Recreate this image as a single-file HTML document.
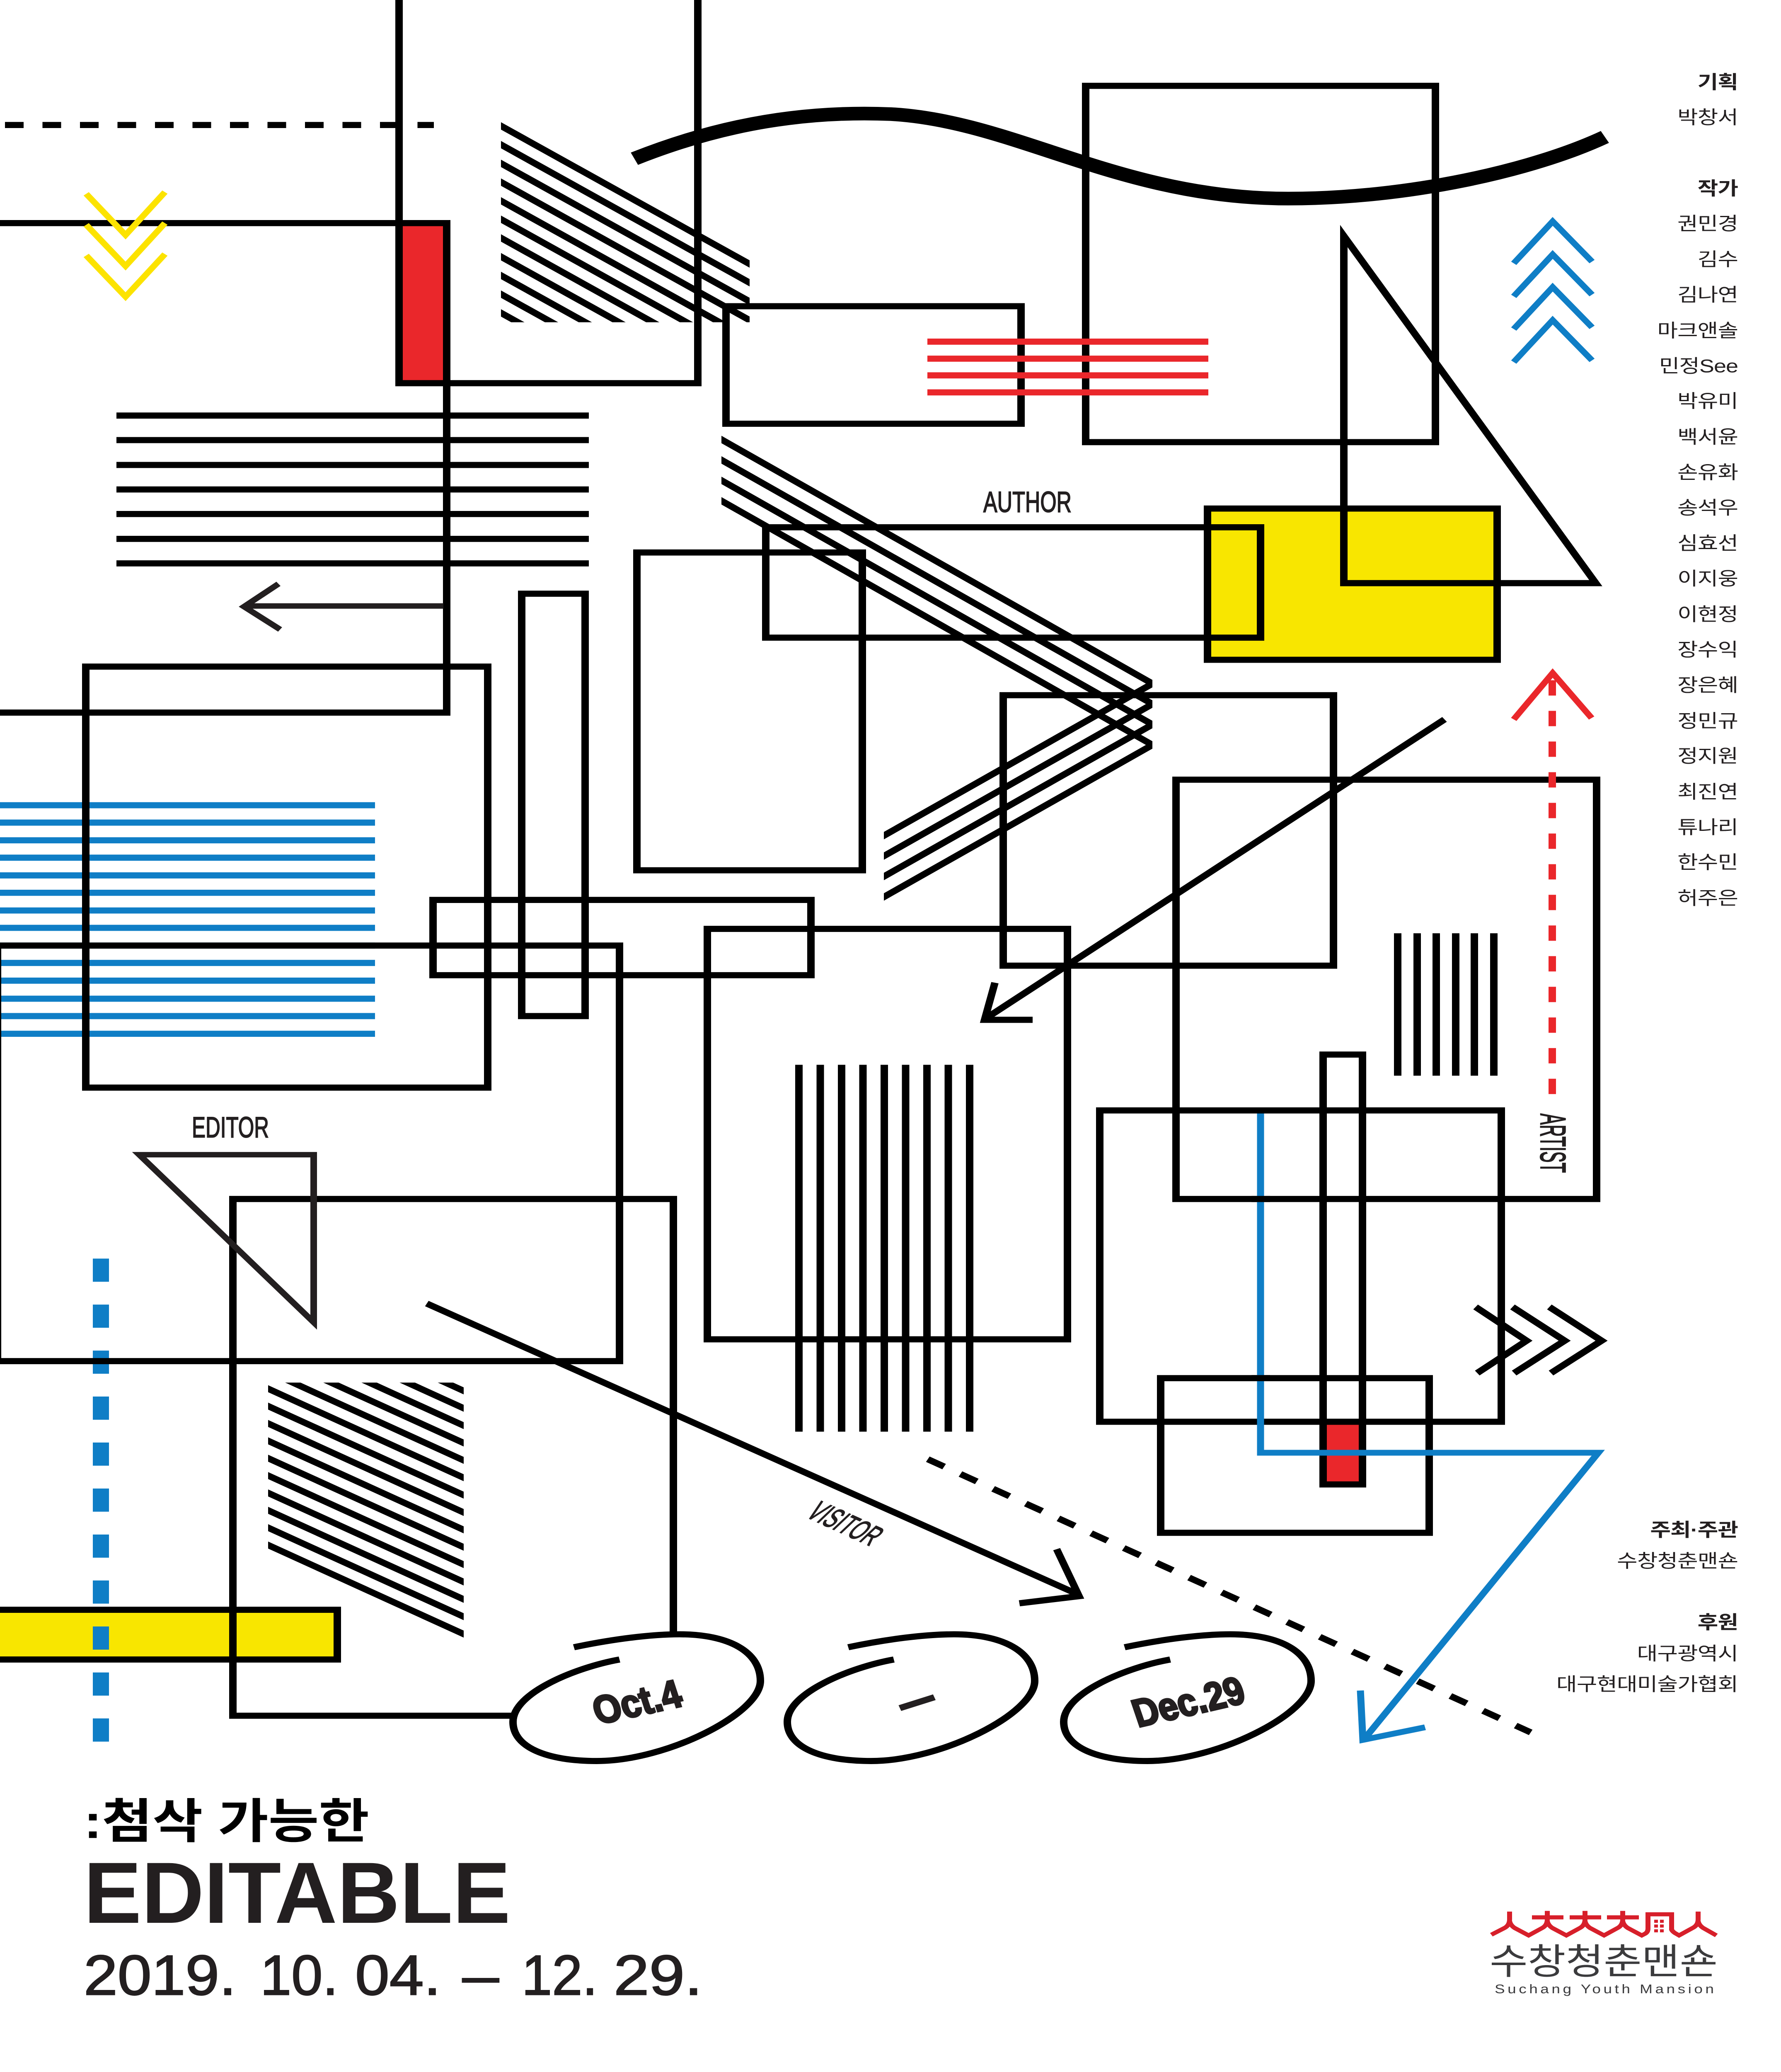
<!DOCTYPE html>
<html lang="ko">
<head>
<meta charset="utf-8">
<title>EDITABLE</title>
<style>
html,body{margin:0;padding:0;background:#fff;width:100%;height:100%;overflow:hidden}
svg{display:block;position:fixed;left:0;top:0;width:100vw;height:100vh;overflow:hidden}
.k{font-family:"Liberation Sans","Noto Sans CJK KR",sans-serif;font-size:54px;letter-spacing:-1px;fill:#231f20;text-anchor:end}
.b{font-weight:700}
.l{font-family:"Liberation Sans",sans-serif;fill:#231f20}
.h{stroke:#231f20;stroke-width:2.5}
.d{stroke:#231f20;stroke-width:3}
</style>
</head>
<body>
<svg xmlns="http://www.w3.org/2000/svg" viewBox="0 0 4298 6083" preserveAspectRatio="none">
<defs>
<clipPath id="c1"><rect x="1209" y="300" width="600" height="646"/></clipPath>
<clipPath id="c2"><rect x="1741" y="1200" width="1040" height="1300"/></clipPath>
<clipPath id="c3"><rect x="2133" y="1900" width="648" height="900"/></clipPath>
<clipPath id="c4"><rect x="647" y="4059" width="472" height="800"/></clipPath>
</defs>
<rect width="4298" height="6083" fill="#fff"/>

<!-- fills -->
<rect x="963" y="655" width="115" height="470" fill="#ea272b"/>
<rect x="2914" y="1493" width="699" height="444" fill="#f8e600"/>
<rect x="-20" y="4726" width="834" height="146" fill="#f8e600"/>
<rect x="3193" y="4170" width="95" height="188" fill="#ea272b"/>

<!-- blue horizontal lines -->
<g stroke="#0f7ec6" stroke-width="18" fill="none">
<path d="M0,2364H905M0,2415H905M0,2467H905M0,2518H905M0,2570H905M0,2621H905M0,2673H905M0,2724H905M0,2776H905M0,2827H905M0,2879H905M0,2932H905M0,2983H905M0,3035H905"/>
</g>
<path d="M243.5,3695V5113" stroke="#0f7ec6" stroke-width="39" stroke-dasharray="68 67" fill="none"/>

<g fill="none" stroke="#000" stroke-width="18" stroke-miterlimit="30">
<!-- top frame -->
<path d="M963,0V1125H1684V0"/>
<path d="M0,655H1078V2092H0"/>
<path d="M12,367H1047" stroke-dasharray="45 45.5"/>
<!-- hatch 1 -->
<g clip-path="url(#c1)">
<path d="M1180,350L1840,796M1180,405L1840,851M1180,460L1840,906M1180,515L1840,961M1180,570L1840,1016M1180,624L1840,1070M1180,679L1840,1125M1180,734L1840,1180M1180,789L1840,1235M1180,844L1840,1290M1180,899L1840,1345"/>
</g>
<!-- curve -->
<path d="M1531,466C1750,360 1950,325 2150,335C2450,355 2700,583 3109,583C3400,583 3700,500 3873,402" stroke-width="40"/>
<!-- rects -->
<rect x="2620" y="252" width="844" height="1046"/>
<rect x="1752" y="899" width="712" height="345"/>
<!-- seven lines -->
<path d="M281,1220H1421M281,1292H1421M281,1365H1421M281,1437H1421M281,1509H1421M281,1582H1421M281,1654H1421"/>
<rect x="207" y="1957" width="970" height="1236"/>
<rect x="1259" y="1743" width="153" height="1240"/>
<rect x="1537" y="1622" width="544" height="933"/>
<rect x="1848" y="1548" width="1194" height="324"/>
<rect x="2914" y="1493" width="699" height="444"/>
<path d="M3243,693L3851,1712H3243Z"/>
<!-- hatch 2 -->
<g clip-path="url(#c2)">
<path d="M1700,1262L2800,2020M1700,1322L2800,2080M1700,1382L2800,2140M1700,1442L2800,2200"/>
</g>
<g clip-path="url(#c3)">
<path d="M2100,2476L2800,1994M2100,2536L2800,2054M2100,2596L2800,2114M2100,2656L2800,2174"/>
</g>
<rect x="2421" y="2041" width="797" height="794"/>
<rect x="2838" y="2289" width="1015" height="1231"/>
<rect x="1707" y="2727" width="869" height="1205"/>
<rect x="1045" y="2642" width="912" height="221"/>
<rect x="-6" y="2776" width="1501" height="1220"/>
<rect x="-20" y="4726" width="834" height="146"/>
<path d="M1625,4790V3520H562V5037H1236"/>
<!-- nine verticals -->
<path d="M1928,3126V4203M1979.5,3126V4203M2031,3126V4203M2082.5,3126V4203M2134,3126V4203M2185.5,3126V4203M2237,3126V4203M2288.5,3126V4203M2340,3126V4203"/>
<!-- six verticals -->
<path d="M3373,2740V3158M3420,2740V3158M3466,2740V3158M3513,2740V3158M3558,2740V3158M3605,2740V3158"/>
<!-- diagonal arrow -->
<path d="M3486,2112L2385,2985"/>
<path d="M2401,2885L2376,2994H2492"/>
<rect x="2654" y="3260" width="969" height="914"/>
<rect x="3193" y="3096" width="95" height="1262"/>
<rect x="2801" y="4046" width="648" height="454"/>
<!-- right chevrons -->
<path d="M3561,3837L3684,3936L3565,4031"/>
<path d="M3650,3837L3776,3936L3654,4031"/>
<path d="M3739,3837L3865,3936L3743,4031"/>
<!-- hatch 3 -->
<g clip-path="url(#c4)">
<path d="M620,3807L1140,4095M620,3858L1140,4146M620,3909L1140,4197M620,3960L1140,4248M620,4011L1140,4299M620,4062L1140,4350M620,4113L1140,4401M620,4164L1140,4452M620,4215L1140,4503M620,4266L1140,4554M620,4317L1140,4605M620,4368L1140,4656M620,4419L1140,4707M620,4470L1140,4758M620,4521L1140,4809"/>
</g>
<!-- visitor arrow -->
<path d="M1030,3827L2600,4680"/>
<path d="M2550,4548L2604,4686L2460,4707"/>
<!-- dashed diagonal -->
<path d="M2239,4284L3694,5086" stroke-dasharray="45 45"/>
<!-- blobs -->
<path d="M1385,4836C1480,4812 1570,4798 1640,4798C1760,4798 1835,4850 1835,4935C1835,5030 1610,5170 1440,5170C1320,5170 1238,5130 1238,5055C1238,4970 1390,4895 1495,4872"/>
<path transform="translate(662,0)" d="M1385,4836C1480,4812 1570,4798 1640,4798C1760,4798 1835,4850 1835,4935C1835,5030 1610,5170 1440,5170C1320,5170 1238,5130 1238,5055C1238,4970 1390,4895 1495,4872"/>
<path transform="translate(1329,0)" d="M1385,4836C1480,4812 1570,4798 1640,4798C1760,4798 1835,4850 1835,4935C1835,5030 1610,5170 1440,5170C1320,5170 1238,5130 1238,5055C1238,4970 1390,4895 1495,4872"/>
</g>

<!-- left arrow -->
<path d="M1070,1779H595" fill="none" stroke="#231f20" stroke-width="16"/>
<path d="M672,1714L589,1781L676,1848" fill="none" stroke="#231f20" stroke-width="16" stroke-miterlimit="20"/>
<!-- editor triangle -->
<path d="M336,3390H757V3882Z" fill="none" stroke="#231f20" stroke-width="16" stroke-miterlimit="30"/>

<!-- red lines over black -->
<path d="M2238,1003H2916M2238,1053H2916M2238,1102H2916M2238,1152H2916" stroke="#ea272b" stroke-width="18" fill="none"/>
<!-- red dashed + chevron -->
<path d="M3746,3212V1990" stroke="#ea272b" stroke-width="18" stroke-dasharray="45 45" fill="none"/>
<path d="M3653,2112L3747,1976L3841,2108" stroke="#ea272b" stroke-width="16" fill="none" stroke-miterlimit="20"/>
<!-- yellow chevrons -->
<g fill="none" stroke="#fce300" stroke-width="16" stroke-miterlimit="20">
<path d="M208,569L303,690L398,564"/>
<path d="M208,660L303,781L398,655"/>
<path d="M208,750L303,871L398,746"/>
</g>
<!-- blue chevrons -->
<g fill="none" stroke="#0f7ec6" stroke-width="16" stroke-miterlimit="20">
<path d="M3653,773L3747,650L3842,768"/>
<path d="M3653,870L3747,747L3842,865"/>
<path d="M3653,966L3747,843L3842,961"/>
<path d="M3653,1063L3747,940L3842,1058"/>
</g>
<!-- blue connector -->
<path d="M3042,3269V4265H3857L3296,5100" fill="none" stroke="#0f7ec6" stroke-width="17" stroke-miterlimit="20"/>
<path d="M3283,4963L3289,5108L3439,5071" fill="none" stroke="#0f7ec6" stroke-width="17" stroke-miterlimit="20"/>
<path d="M3020,3520H3065M3020,4046H3065" stroke="#000" stroke-width="18" fill="none"/>

<!-- labels -->
<text class="l h" x="2373" y="1503" font-size="86" textLength="213" lengthAdjust="spacingAndGlyphs">AUTHOR</text>
<text class="l h" x="463" y="3339" font-size="86" textLength="186" lengthAdjust="spacingAndGlyphs">EDITOR</text>
<text class="l h" transform="translate(3718,3269) rotate(90)" font-size="86" textLength="174" lengthAdjust="spacingAndGlyphs">ARTIST</text>
<text class="l h" transform="translate(1942,4452) rotate(29) skewX(-12)" font-size="86" textLength="180" lengthAdjust="spacingAndGlyphs">VISITOR</text>

<text class="l" transform="translate(1443,5063) rotate(-15)" font-size="114" font-weight="700" stroke="#231f20" stroke-width="6" textLength="216" lengthAdjust="spacingAndGlyphs">Oct.4</text>
<text class="l" transform="translate(2213,4998) rotate(-21)" font-size="180" font-weight="700" text-anchor="middle" y="49" fill="#000">–</text>
<text class="l" transform="translate(2746,5071) rotate(-15.6)" font-size="114" font-weight="700" stroke="#231f20" stroke-width="6" textLength="275" lengthAdjust="spacingAndGlyphs">Dec.29</text>

<!-- credits -->
<text class="k b" x="4194" y="260">기획</text>
<text class="k" x="4194" y="363">박창서</text>
<text class="k b" x="4194" y="572">작가</text>
<text class="k" x="4194" y="675">권민경</text>
<text class="k" x="4194" y="780">김수</text>
<text class="k" x="4194" y="884">김나연</text>
<text class="k" x="4194" y="989">마크앤솔</text>
<text class="k" x="4194" y="1093">민정See</text>
<text class="k" x="4194" y="1196">박유미</text>
<text class="k" x="4194" y="1301">백서윤</text>
<text class="k" x="4194" y="1405">손유화</text>
<text class="k" x="4194" y="1509">송석우</text>
<text class="k" x="4194" y="1613">심효선</text>
<text class="k" x="4194" y="1717">이지웅</text>
<text class="k" x="4194" y="1822">이현정</text>
<text class="k" x="4194" y="1926">장수익</text>
<text class="k" x="4194" y="2030">장은혜</text>
<text class="k" x="4194" y="2135">정민규</text>
<text class="k" x="4194" y="2238">정지원</text>
<text class="k" x="4194" y="2343">최진연</text>
<text class="k" x="4194" y="2447">튜나리</text>
<text class="k" x="4194" y="2550">한수민</text>
<text class="k" x="4194" y="2655">허주은</text>

<text class="k b" x="4194" y="4510">주최·주관</text>
<text class="k" x="4194" y="4601">수창청춘맨숀</text>
<text class="k b" x="4194" y="4781">후원</text>
<text class="k" x="4194" y="4873">대구광역시</text>
<text class="k" x="4194" y="4963">대구현대미술가협회</text>

<!-- title -->
<text x="202" y="5396" font-family="'Liberation Sans','Noto Sans CJK KR',sans-serif" font-size="140" font-weight="700" fill="#000" textLength="689" lengthAdjust="spacingAndGlyphs">:첨삭 가능한</text>
<text class="l" x="202" y="5645" font-size="255" font-weight="700" textLength="1030" lengthAdjust="spacingAndGlyphs">EDITABLE</text>
<text class="l d" x="202" y="5856" font-size="166" textLength="368" lengthAdjust="spacingAndGlyphs">2019.</text>
<text class="l d" x="628" y="5856" font-size="166" textLength="188" lengthAdjust="spacingAndGlyphs">10.</text>
<text class="l d" x="857" y="5856" font-size="166" textLength="207" lengthAdjust="spacingAndGlyphs">04.</text>
<text class="l d" x="1116" y="5856" font-size="166" textLength="88" lengthAdjust="spacingAndGlyphs">–</text>
<text class="l d" x="1259" y="5856" font-size="166" textLength="183" lengthAdjust="spacingAndGlyphs">12.</text>
<text class="l d" x="1481" y="5856" font-size="166" textLength="214" lengthAdjust="spacingAndGlyphs">29.</text>

<!-- logo -->
<g fill="none" stroke="#d71f2a" stroke-width="12">
<path d="M3599,5680L3631,5660Q3643,5652 3643,5635V5612"/>
<path d="M3643,5640Q3645,5652 3655,5660L3689,5682L3722,5660Q3734,5652 3734,5635V5610"/>
<path d="M3734,5640Q3736,5652 3746,5660L3780,5682L3813,5660Q3825,5652 3825,5635V5610"/>
<path d="M3825,5640Q3827,5652 3837,5660L3871,5682L3904,5660Q3916,5652 3916,5635V5610"/>
<path d="M3916,5640Q3918,5652 3928,5660L3962,5682L3970,5677Q3977,5672 3977,5662V5620H4034V5665Q4036,5670 4042,5675L4052,5682L4085,5660Q4098,5652 4098,5635V5612"/>
<path d="M4098,5640Q4100,5652 4110,5660L4142,5682"/>
<path d="M3697,5629H3773M3788,5629H3864M3878,5629H3955"/>
</g>
<g fill="#d71f2a">
<rect x="3992" y="5636" width="9" height="9"/><rect x="4006" y="5636" width="9" height="9"/>
<rect x="3992" y="5650" width="9" height="9"/><rect x="4006" y="5650" width="9" height="9"/>
<rect x="3992" y="5664" width="9" height="9"/><rect x="4006" y="5664" width="9" height="9"/>
</g>
<text x="3595" y="5795" font-family="'Liberation Sans','Noto Sans CJK KR',sans-serif" font-size="105" fill="#3b3b3d" textLength="550" lengthAdjust="spacingAndGlyphs">수창청춘맨숀</text>
<text x="3607" y="5852" font-family="'Liberation Sans',sans-serif" font-size="37" fill="#3b3b3d" textLength="529">Suchang Youth Mansion</text>
</svg>
</body>
</html>
